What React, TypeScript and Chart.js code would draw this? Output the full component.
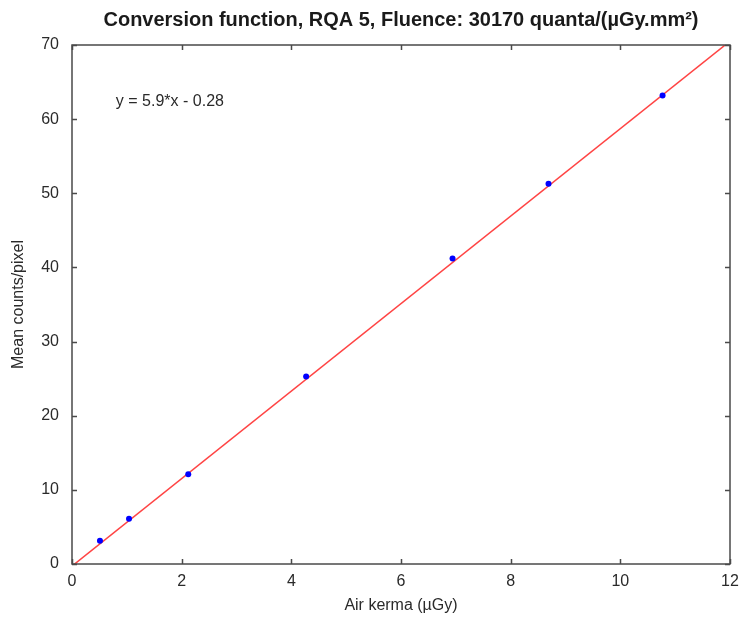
import React, { useEffect, useRef } from "react";
import { Chart, registerables } from "chart.js";

Chart.register(...registerables);

const TITLE = "Conversion function, RQA 5, Fluence: 30170 quanta/(µGy.mm²)";
const X_LABEL = "Air kerma (µGy)";
const Y_LABEL = "Mean counts/pixel";
const EQUATION = "y = 5.9*x - 0.28";

const airKerma = [0.51, 1.04, 2.12, 4.27, 6.94, 8.69, 10.77];
const meanCounts = [3.14, 6.1, 12.1, 25.3, 41.2, 51.3, 63.2];

const fitX = [0, 12];
const fitY = [-0.28, 70.52];

const xTicks = [0, 2, 4, 6, 8, 10, 12];
const yTicks = [0, 10, 20, 30, 40, 50, 60, 70];

const FONT = "Arial, 'Liberation Sans', sans-serif";

const boxPlugin = {
  id: "matlabBox",
  afterDraw(chart: any) {
    const { ctx, chartArea } = chart;
    const xs = chart.scales.x;
    const ys = chart.scales.y;
    const { left, right, top, bottom } = chartArea;
    ctx.save();
    ctx.strokeStyle = "#4a4a4a";
    ctx.lineWidth = 1.5;
    ctx.strokeRect(left, top, right - left, bottom - top);
    const tl = 5;
    ctx.beginPath();
    xTicks.forEach((v) => {
      const p = Math.round(xs.getPixelForValue(v)) + 0.5;
      ctx.moveTo(p, bottom);
      ctx.lineTo(p, bottom - tl);
      ctx.moveTo(p, top);
      ctx.lineTo(p, top + tl);
    });
    yTicks.forEach((v) => {
      const p = Math.round(ys.getPixelForValue(v)) + 0.5;
      ctx.moveTo(left, p);
      ctx.lineTo(left + tl, p);
      ctx.moveTo(right, p);
      ctx.lineTo(right - tl, p);
    });
    ctx.stroke();

    // title (condensed to match width)
    ctx.fillStyle = "#1a1a1a";
    ctx.textAlign = "center";
    ctx.textBaseline = "middle";
    ctx.font = "bold 20px " + FONT;
    const cx = (left + right) / 2;
    const w = ctx.measureText(TITLE).width;
    const target = 595;
    ctx.save();
    ctx.translate(cx, 20);
    ctx.scale(target / w, 1);
    ctx.fillText(TITLE, 0, 0);
    ctx.restore();

    // axis titles
    ctx.fillStyle = "#2a2a2a";
    ctx.font = "16px " + FONT;
    ctx.fillText(X_LABEL, cx, 606);
    ctx.save();
    ctx.translate(19, (top + bottom) / 2);
    ctx.rotate(-Math.PI / 2);
    ctx.fillText(Y_LABEL, 0, 0);
    ctx.restore();

    // equation
    ctx.textAlign = "left";
    ctx.fillText(EQUATION, xs.getPixelForValue(0.8), ys.getPixelForValue(62.4));
    ctx.restore();
  },
};

export default function App() {
  const ref = useRef<HTMLCanvasElement>(null);
  useEffect(() => {
    if (!ref.current) return;
    const chart = new Chart(ref.current, {
      type: "scatter",
      data: {
        datasets: [
          {
            type: "line",
            data: fitX.map((x, i) => ({ x, y: fitY[i] })),
            borderColor: "#ff4444",
            borderWidth: 1.5,
            pointRadius: 0,
            fill: false,
            order: 2,
          } as any,
          {
            data: airKerma.map((x, i) => ({ x, y: meanCounts[i] })),
            backgroundColor: "#0000ff",
            borderColor: "#0000ff",
            pointRadius: 3,
            pointBorderWidth: 0,
            order: 1,
          },
        ],
      },
      options: {
        animation: false,
        responsive: false,
        layout: { padding: { left: 0, right: 12, top: 45, bottom: 0 } },
        plugins: {
          legend: { display: false },
          tooltip: { enabled: false },
          title: { display: false },
        },
        scales: {
          x: {
            type: "linear",
            min: 0,
            max: 12,
            afterFit(scale: any) {
              scale.height = 56;
              scale.paddingLeft = 0;
              scale.paddingRight = 0;
            },
            afterBuildTicks(scale: any) {
              scale.ticks = xTicks.map((v) => ({ value: v }));
            },
            grid: { display: false, drawTicks: false },
            border: { display: false },
            ticks: {
              padding: 8,
              color: "#2a2a2a",
              font: { size: 16, family: FONT },
              maxRotation: 0,
            },
          },
          y: {
            type: "linear",
            min: 0,
            max: 70,
            afterFit(scale: any) {
              scale.width = 72;
              scale.paddingTop = 0;
              scale.paddingBottom = 0;
            },
            afterBuildTicks(scale: any) {
              scale.ticks = yTicks.map((v) => ({ value: v }));
            },
            grid: { display: false, drawTicks: false },
            border: { display: false },
            ticks: {
              padding: 13,
              color: "#2a2a2a",
              font: { size: 16, family: FONT },
            },
          },
        },
      },
      plugins: [boxPlugin],
    });
    return () => chart.destroy();
  }, []);
  return (
    <div style={{ position: "absolute", left: 0, top: 0, width: 742, height: 620, background: "#fff" }}>
      <canvas ref={ref} width={742} height={620} style={{ width: 742, height: 620 }} />
    </div>
  );
}
